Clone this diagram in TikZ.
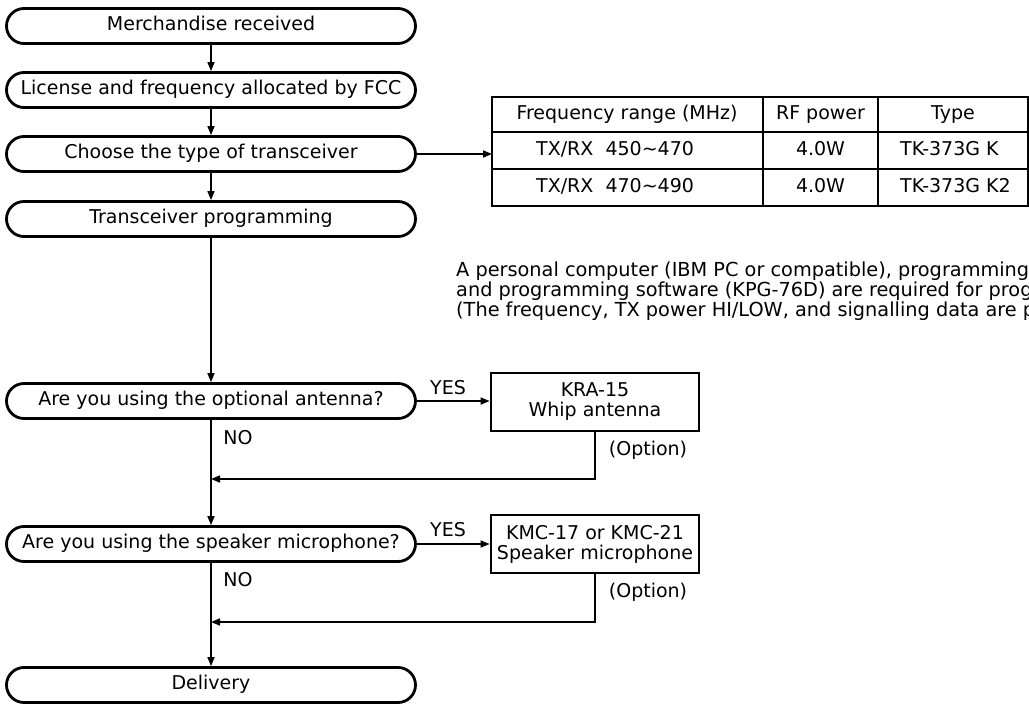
\documentclass[tikz,border=0pt]{standalone}
\usepackage{fontspec}
\setmainfont{DejaVu Sans}
\usetikzlibrary{arrows.meta}

\begin{document}
\begin{tikzpicture}[x=1pt,y=-1pt,
    font=\fontsize{19}{20}\selectfont,
    stadium/.style={draw,line width=2.8pt,rounded corners=17.5pt,minimum width=409pt,minimum height=35pt,inner sep=0pt,text height=13.5pt,text depth=4pt},
    optbox/.style={draw,line width=2.8pt,minimum width=208pt,minimum height=58pt,inner sep=0pt,align=center},
    flow/.style={line width=1.6pt,-{Triangle[length=9pt,width=7pt]}},
    grid/.style={line width=2pt},
    cell/.style={inner sep=0pt,text height=13.5pt,text depth=4pt},
    lbl/.style={inner sep=0pt}]
    \useasboundingbox (0,0) rectangle (1029,704);
    \clip (0,0) rectangle (1029,704);
    % main chain
    \node[stadium] (recv) at (211,26) {Merchandise received};
    \node[stadium] (fcc) at (211,90) {License and frequency allocated by FCC};
    \node[stadium] (type) at (211,154) {Choose the type of transceiver};
    \node[stadium] (prog) at (211,219) {Transceiver programming};
    \node[stadium] (ant) at (211,401) {Are you using the optional antenna?};
    \node[stadium] (mic) at (211,544) {Are you using the speaker microphone?};
    \node[stadium] (deliv) at (211,685) {Delivery};
    \draw[flow] (recv) -- (fcc);
    \draw[flow] (fcc) -- (type);
    \draw[flow] (type) -- (prog);
    \draw[flow] (prog) -- (ant);
    \draw[flow] (ant) -- (mic);
    \draw[flow] (mic) -- (deliv);
    % table of types
    \draw[grid] (492,97) rectangle (1028,206);
    \draw[grid] (492,132) -- (1028,132) (492,169) -- (1028,169);
    \draw[grid] (763,97) -- (763,206) (878,97) -- (878,206);
    \node[cell] (hfreq) at (627,114.5) {Frequency range (MHz)};
    \node[cell] (hpow) at (820.5,114.5) {RF power};
    \node[cell] (htype) at (953,114.5) {Type};
    \node[cell,anchor=west] (freqa) at (536,150.5) {TX/RX\ \ 450\textasciitilde470};
    \node[cell] (powa) at (820.5,150.5) {4.0W};
    \node[cell,anchor=west] (typea) at (900,150.5) {TK-373G K};
    \node[cell,anchor=west] (freqb) at (536,187.5) {TX/RX\ \ 470\textasciitilde490};
    \node[cell] (powb) at (820.5,187.5) {4.0W};
    \node[cell,anchor=west] (typeb) at (900,187.5) {TK-373G K2};
    \coordinate (tabin) at (492,154);
    \draw[flow] (type.east) -- (tabin);
    % note on programming
    \node[anchor=north west,align=left,inner sep=0pt,font=\fontsize{19.3}{20}\selectfont] (note) at (456,262) {A personal computer (IBM PC or compatible), programming\\and programming software (KPG-76D) are required for prog\\(The frequency, TX power HI/LOW, and signalling data are p};
    % options
    \node[optbox] (kra) at (595,402) {KRA-15\\Whip antenna};
    \node[optbox] (kmc) at (595,544) {KMC-17 or KMC-21\\Speaker microphone};
    \draw[flow] (ant.east) -- (ant.east -| kra.west);
    \draw[flow] (mic.east) -- (mic.east -| kmc.west);
    \coordinate (backa) at (211,479);
    \coordinate (backb) at (211,622);
    \draw[flow] (kra.south) |- (backa);
    \draw[flow] (kmc.south) |- (backb);
    \node[lbl] (yesa) at (448,388) {YES};
    \node[lbl] (noa) at (238,438) {NO};
    \node[lbl] (opta) at (648,450) {(Option)};
    \node[lbl] (yesb) at (448,530) {YES};
    \node[lbl] (nob) at (238,580) {NO};
    \node[lbl] (optb) at (648,592) {(Option)};
\end{tikzpicture}
\end{document}
